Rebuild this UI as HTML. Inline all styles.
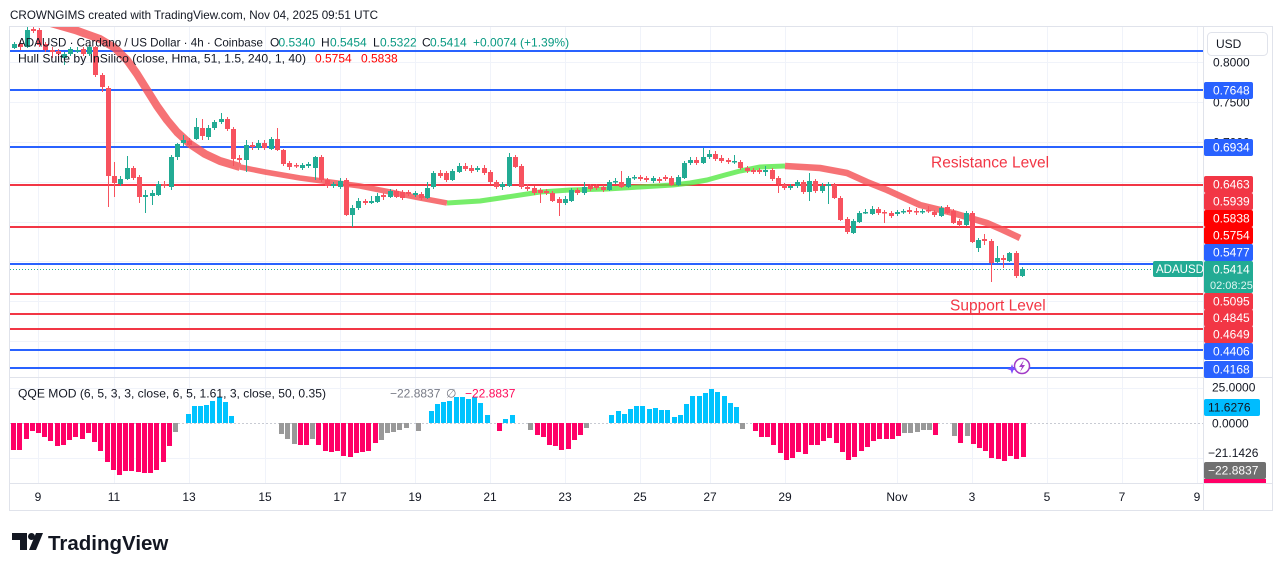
<!DOCTYPE html>
<html><head><meta charset="utf-8">
<style>
html,body{margin:0;padding:0;background:#fff;overflow:hidden;}
svg{display:block;}
text{font-family:"Liberation Sans",Arial,sans-serif;}
</style></head>
<body>
<svg width="1281" height="571" viewBox="0 0 1281 571" xmlns="http://www.w3.org/2000/svg">
<defs>
<clipPath id="pp"><rect x="10" y="27" width="1193" height="350"/></clipPath>
<clipPath id="qp"><rect x="10" y="378" width="1193" height="105"/></clipPath>
</defs>
<rect width="1281" height="571" fill="#fff"/>
<text x="10" y="19" font-size="12" fill="#131722" textLength="368" lengthAdjust="spacingAndGlyphs">CROWNGIMS created with TradingView.com, Nov 04, 2025 09:51 UTC</text>

<!-- grid -->
<g stroke="#f0f3fa" stroke-width="1">
<path d="M38.5,27V483M114.5,27V483M189.5,27V483M265.5,27V483M340.5,27V483M415.5,27V483M490.5,27V483M565.5,27V483M640.5,27V483M710.5,27V483M785.5,27V483M897.5,27V483M972.5,27V483M1047.5,27V483M1122.5,27V483M1197.5,27V483"/>
<path d="M10,62.5H1203M10,102.5H1203M10,142.5H1203M10,182.5H1203M10,222.5H1203M10,261.5H1203M10,301.5H1203M10,341.5H1203M10,388.5H1203M10,458.5H1203"/>
</g>

<!-- frame -->
<g stroke="#e0e3eb" stroke-width="1" fill="none">
<rect x="9.5" y="26.5" width="1263" height="484"/>
<path d="M1203.5,27V511M10,377.5H1272M10,483.5H1272"/>
</g>

<!-- level lines -->
<g stroke-width="2" clip-path="url(#pp)">
<path d="M10,51H1203M10,90H1203M10,147H1203M10,264H1203M10,350H1203M10,368H1203" stroke="#2962ff"/>
<path d="M10,185H1203M10,227H1203M10,294H1203M10,314H1203M10,329H1203" stroke="#f23645"/>
</g>
<path d="M10,269.5H1153" stroke="#22ab94" stroke-width="1" stroke-dasharray="1,2"/>

<!-- hull band -->
<g clip-path="url(#pp)" fill="none" stroke-linejoin="round">
<path d="M40,20 L75,30 L100,39 L115,48 L127,60 L137,74 L147,90 L157,106 L167,120 L177,132 L190,144 L205,154 L220,161 L240,167" stroke="#f44f52" stroke-opacity="0.8" stroke-width="8"/>
<path d="M240,167 L265,172 L300,178 L330,182 L360,186 L390,192 L420,198 L447,203" stroke="#f44f52" stroke-opacity="0.8" stroke-width="5.5"/>
<path d="M447,203 L480,201 L507,197 L540,192 L570,190 L607,189 L640,187 L673,185 L690,183 L707,180 L725,175 L740,171 L760,167 L785,166" stroke="#55e845" stroke-opacity="0.8" stroke-width="5"/>
<path d="M785,166 L820,168 L847,173 L867,182 L887,190 L920,205 L953,213 L987,223 L1003,230 L1020,238" stroke="#f44f52" stroke-opacity="0.8" stroke-width="6.5"/>
</g>

<!-- candles -->
<g clip-path="url(#pp)">
<path stroke="#22ab94" stroke-width="1" fill="none" d="M14.5 42V49M27.5 27V48M64.5 52V65M70.5 47V56M77.5 47V53M89.5 45V56M120.5 176V186M127.5 156V180M145.5 190V213M152.5 190V205M158.5 181V196M171.5 155V190M177.5 143V160M183.5 135V146M196.5 118V140M208.5 125V140M214.5 120V130M221.5 113V124M246.5 140V172M258.5 140V150M271.5 137V150M302.5 163V170M308.5 162V168M315.5 156V180M333.5 182V188M340.5 178V189M352.5 205V227M358.5 198V210M371.5 196V204M377.5 193V203M390.5 189V198M415.5 191V197M427.5 182V199M433.5 171V189M452.5 169V181M459.5 163V173M477.5 166V172M502.5 182V190M509.5 153V187M565.5 196V205M571.5 188V202M584.5 182V195M609.5 180V191M615.5 178V184M628.5 176V188M634.5 175V180M653.5 176V183M678.5 175V186M684.5 161V179M690.5 157V165M703.5 148V164M709.5 150V159M734.5 155V164M765.5 166V176M790.5 184V190M797.5 180V188M809.5 173V201M822.5 183V193M828.5 182V204M853.5 219V234M859.5 211V223M865.5 209V214M872.5 206V215M897.5 210V216M903.5 209V214M922.5 209V214M941.5 206V217M966.5 211V226M978.5 238V252M997.5 246V263M1009.5 252V262M1022.5 267V277"/>
<path fill="#22ab94" d="M12 44h5v4h-5zM25 30h5v17h-5zM62 54h5v4h-5zM68 49h5v5h-5zM75 50h5v1.5h-5zM87 47h5v7h-5zM118 179h5v5h-5zM125 168h5v11h-5zM143 195h5v2h-5zM150 193h5v3h-5zM156 184h5v11h-5zM169 157h5v30h-5zM175 144h5v13h-5zM181 140h5v3h-5zM194 127h5v12h-5zM206 128h5v9h-5zM212 122h5v6h-5zM219 119h5v3h-5zM244 145h5v15h-5zM256 143h5v5h-5zM269 139h5v10h-5zM300 165h5v3h-5zM306 164h5v2h-5zM313 157h5v11h-5zM331 184h5v2h-5zM338 181h5v6h-5zM350 208h5v7h-5zM356 201h5v7h-5zM369 201h5v2h-5zM375 196h5v6h-5zM388 191h5v6h-5zM413 193h5v2h-5zM425 188h5v10h-5zM431 173h5v14h-5zM450 171h5v9h-5zM457 166h5v6h-5zM475 168h5v2h-5zM500 184h5v3h-5zM507 157h5v29h-5zM563 199h5v4h-5zM569 190h5v11h-5zM582 187h5v6h-5zM607 182h5v8h-5zM613 181h5v1.5h-5zM626 178h5v9h-5zM632 177h5v1.5h-5zM651 178h5v3h-5zM676 177h5v8h-5zM682 163h5v15h-5zM688 160h5v3h-5zM701 157h5v6h-5zM707 154h5v3h-5zM732 161h5v1.5h-5zM763 170h5v2h-5zM788 186h5v2h-5zM795 182h5v4h-5zM807 181h5v11h-5zM820 186h5v5h-5zM826 184h5v2h-5zM851 221h5v12h-5zM857 213h5v9h-5zM863 212h5v1.5h-5zM870 209h5v5h-5zM895 212h5v2h-5zM901 211h5v1.5h-5zM920 211h5v1.5h-5zM939 208h5v8h-5zM964 213h5v12h-5zM976 240h5v8h-5zM995 258h5v4h-5zM1007 253h5v8h-5zM1020 269h5v7h-5z"/>
<path stroke="#f7525f" stroke-width="1" fill="none" d="M20.5 40V50M33.5 27V33M39.5 28V47M45.5 42V52M52.5 47V58M58.5 49V60M83.5 47V56M95.5 46V77M102.5 73V92M108.5 86V207M114.5 162V197M133.5 166V180M139.5 175V203M164.5 181V188M189.5 138V148M202.5 119V140M227.5 117V131M233.5 127V166M239.5 155V163M252.5 142V150M264.5 140V150M277.5 128V151M283.5 149V166M289.5 161V170M296.5 163V168M321.5 155V182M327.5 178V188M346.5 178V216M365.5 199V205M383.5 193V200M396.5 189V198M402.5 190V200M408.5 190V196M421.5 192V200M440.5 170V178M446.5 171V182M465.5 163V171M471.5 165V173M484.5 165V175M490.5 170V184M496.5 180V189M515.5 155V168M521.5 164V189M527.5 184V191M534.5 186V195M540.5 188V203M546.5 189V195M552.5 191V202M559.5 197V216M577.5 188V195M590.5 184V191M596.5 184V190M603.5 185V192M621.5 171V188M640.5 175V181M646.5 176V182M659.5 177V183M665.5 175V181M671.5 176V186M696.5 157V165M715.5 151V161M721.5 155V163M728.5 158V164M740.5 160V170M747.5 166V173M753.5 168V174M759.5 168V174M772.5 168V181M778.5 176V193M784.5 183V190M803.5 180V194M815.5 179V193M834.5 183V199M840.5 196V221M847.5 217V234M878.5 207V215M884.5 210V223M891.5 211V218M909.5 207V214M916.5 208V215M928.5 206V213M934.5 210V217M947.5 205V214M953.5 209V224M959.5 219V227M972.5 211V243M984.5 234V245M991.5 239V282M1003.5 255V268M1016.5 251V278"/>
<path fill="#f7525f" d="M18 44h5v3h-5zM31 29h5v2h-5zM37 30h5v15h-5zM43 44h5v6h-5zM50 50h5v2h-5zM56 51h5v3h-5zM81 49h5v5h-5zM93 47h5v28h-5zM100 75h5v12h-5zM106 88h5v88h-5zM112 176h5v7h-5zM131 168h5v10h-5zM137 177h5v20h-5zM162 184h5v2h-5zM187 141h5v4h-5zM200 128h5v8h-5zM225 119h5v10h-5zM231 129h5v30h-5zM237 158h5v2h-5zM250 145h5v2h-5zM262 143h5v5h-5zM275 139h5v11h-5zM281 150h5v14h-5zM287 163h5v4h-5zM294 165h5v1.5h-5zM319 157h5v23h-5zM325 180h5v6h-5zM344 180h5v35h-5zM363 201h5v2h-5zM381 195h5v2h-5zM394 191h5v6h-5zM400 192h5v6h-5zM406 192h5v2h-5zM419 194h5v4h-5zM438 173h5v3h-5zM444 173h5v7h-5zM463 166h5v3h-5zM469 168h5v3h-5zM482 168h5v5h-5zM488 172h5v10h-5zM494 182h5v5h-5zM513 157h5v10h-5zM519 166h5v21h-5zM525 187h5v2h-5zM532 188h5v5h-5zM538 190h5v3h-5zM544 191h5v2h-5zM550 193h5v8h-5zM557 199h5v4h-5zM575 190h5v3h-5zM588 186h5v3h-5zM594 186h5v2h-5zM601 187h5v3h-5zM619 182h5v5h-5zM638 177h5v2h-5zM644 178h5v2h-5zM657 179h5v2h-5zM663 177h5v2h-5zM669 178h5v7h-5zM694 160h5v3h-5zM713 154h5v5h-5zM719 158h5v3h-5zM726 160h5v2h-5zM738 162h5v6h-5zM745 168h5v3h-5zM751 170h5v2h-5zM757 170h5v2h-5zM770 170h5v9h-5zM776 178h5v6h-5zM782 185h5v3h-5zM801 182h5v10h-5zM813 181h5v10h-5zM832 185h5v13h-5zM838 198h5v22h-5zM845 219h5v13h-5zM876 209h5v4h-5zM882 212h5v1.5h-5zM889 213h5v3h-5zM907 210h5v2h-5zM914 211h5v1.5h-5zM926 210h5v1.5h-5zM932 212h5v3h-5zM945 207h5v6h-5zM951 211h5v12h-5zM957 221h5v4h-5zM970 213h5v29h-5zM982 239h5v2h-5zM989 241h5v22h-5zM1001 258h5v2h-5zM1014 253h5v23h-5z"/>
</g>

<!-- QQE -->
<path d="M10,423.5H1203" stroke="#c8cbd3" stroke-width="1" stroke-dasharray="2,2"/>
<g clip-path="url(#qp)">
<path fill="#ff0066" d="M11 423h5v27h-5zM17 423h5v27h-5zM24 423h5v16h-5zM30 423h5v8h-5zM36 423h5v10h-5zM42 423h5v14h-5zM48 423h5v18h-5zM55 423h5v23h-5zM61 423h5v22h-5zM67 423h5v17h-5zM73 423h5v14h-5zM80 423h5v16h-5zM86 423h5v10h-5zM92 423h5v19h-5zM98 423h5v28h-5zM105 423h5v39h-5zM111 423h5v47h-5zM117 423h5v52h-5zM123 423h5v48h-5zM129 423h5v48h-5zM136 423h5v49h-5zM142 423h5v50h-5zM148 423h5v50h-5zM154 423h5v47h-5zM161 423h5v39h-5zM167 423h5v23h-5zM298 423h5v22h-5zM304 423h5v22h-5zM316 423h5v22h-5zM323 423h5v28h-5zM329 423h5v29h-5zM335 423h5v28h-5zM341 423h5v33h-5zM348 423h5v34h-5zM354 423h5v30h-5zM360 423h5v29h-5zM366 423h5v28h-5zM373 423h5v20h-5zM497 423h5v8h-5zM535 423h5v12h-5zM541 423h5v14h-5zM547 423h5v22h-5zM553 423h5v23h-5zM559 423h5v27h-5zM566 423h5v26h-5zM572 423h5v17h-5zM578 423h5v12h-5zM753 423h5v8h-5zM759 423h5v14h-5zM765 423h5v14h-5zM771 423h5v22h-5zM778 423h5v30h-5zM784 423h5v37h-5zM790 423h5v35h-5zM796 423h5v29h-5zM803 423h5v31h-5zM809 423h5v22h-5zM815 423h5v22h-5zM821 423h5v18h-5zM827 423h5v15h-5zM834 423h5v20h-5zM840 423h5v29h-5zM846 423h5v37h-5zM852 423h5v34h-5zM859 423h5v28h-5zM865 423h5v24h-5zM871 423h5v18h-5zM877 423h5v16h-5zM884 423h5v16h-5zM890 423h5v16h-5zM896 423h5v13h-5zM933 423h5v12h-5zM958 423h5v20h-5zM971 423h5v21h-5zM977 423h5v25h-5zM983 423h5v28h-5zM989 423h5v35h-5zM996 423h5v36h-5zM1002 423h5v38h-5zM1008 423h5v33h-5zM1014 423h5v36h-5zM1021 423h5v34h-5z"/>
<path fill="#999999" d="M173 423h5v9h-5zM279 423h5v11h-5zM285 423h5v16h-5zM292 423h5v21h-5zM310 423h5v16h-5zM379 423h5v17h-5zM385 423h5v10h-5zM391 423h5v9h-5zM397 423h5v7h-5zM404 423h5v5h-5zM416 423h5v8h-5zM528 423h5v7h-5zM584 423h5v5h-5zM740 423h5v6h-5zM902 423h5v10h-5zM908 423h5v10h-5zM915 423h5v9h-5zM921 423h5v7h-5zM927 423h5v7h-5zM952 423h5v13h-5zM965 423h5v13h-5z"/>
<path fill="#00c3ff" d="M186 423h5v-9h-5zM192 423h5v-17h-5zM198 423h5v-17h-5zM204 423h5v-18h-5zM210 423h5v-22h-5zM217 423h5v-26h-5zM223 423h5v-21h-5zM229 423h5v-7h-5zM429 423h5v-12h-5zM435 423h5v-19h-5zM441 423h5v-21h-5zM447 423h5v-22h-5zM454 423h5v-26h-5zM460 423h5v-26h-5zM466 423h5v-24h-5zM472 423h5v-26h-5zM478 423h5v-20h-5zM485 423h5v-8h-5zM503 423h5v-4h-5zM510 423h5v-8h-5zM609 423h5v-8h-5zM616 423h5v-12h-5zM622 423h5v-9h-5zM628 423h5v-14h-5zM634 423h5v-17h-5zM640 423h5v-17h-5zM647 423h5v-14h-5zM653 423h5v-15h-5zM659 423h5v-13h-5zM665 423h5v-13h-5zM672 423h5v-6h-5zM678 423h5v-8h-5zM684 423h5v-19h-5zM690 423h5v-27h-5zM697 423h5v-27h-5zM703 423h5v-30h-5zM709 423h5v-34h-5zM715 423h5v-31h-5zM722 423h5v-27h-5zM728 423h5v-20h-5zM734 423h5v-16h-5z"/>
</g>

<!-- legends -->
<text x="18" y="46.5" font-size="12" fill="#131722" textLength="245" lengthAdjust="spacingAndGlyphs">ADAUSD · Cardano / US Dollar · 4h · Coinbase</text>
<text y="46.5" font-size="12"><tspan x="270" fill="#131722">O</tspan><tspan x="278.5" fill="#089981">0.5340</tspan><tspan x="321" fill="#131722">H</tspan><tspan x="330" fill="#089981">0.5454</tspan><tspan x="373" fill="#131722">L</tspan><tspan x="380" fill="#089981">0.5322</tspan><tspan x="422" fill="#131722">C</tspan><tspan x="430" fill="#089981">0.5414</tspan><tspan x="473" fill="#089981">+0.0074 (+1.39%)</tspan></text>
<text x="18" y="62.5" font-size="12" fill="#131722" textLength="288" lengthAdjust="spacingAndGlyphs">Hull Suite by InSilico (close, Hma, 51, 1.5, 240, 1, 40)</text>
<text y="62.5" font-size="12" fill="#ff0000"><tspan x="315">0.5754</tspan><tspan x="361">0.5838</tspan></text>

<text x="18" y="397.5" font-size="12" fill="#131722" textLength="308" lengthAdjust="spacingAndGlyphs">QQE MOD (6, 5, 3, 3, close, 6, 5, 1.61, 3, close, 50, 0.35)</text>
<text x="390" y="397.5" font-size="12" fill="#787b86">−22.8837</text>
<text x="446" y="397.5" font-size="12" fill="#787b86">∅</text>
<text x="465" y="397.5" font-size="12" fill="#ff0a5a">−22.8837</text>

<text x="931" y="167.5" font-size="15.5" fill="#f23645">Resistance Level</text>
<text x="950" y="310.5" font-size="15.5" fill="#f23645">Support Level</text>

<!-- lightning icon -->
<g>
<circle cx="1022" cy="366" r="7.5" fill="#fff" stroke="#a23cc7" stroke-width="1.5"/>
<path d="M1024,360 L1019,367 L1022,367 L1020,372 L1025,365 L1022,365 Z" fill="#a23cc7"/>
<path d="M1012,364 L1013.3,367.7 L1017,369 L1013.3,370.3 L1012,374 L1010.7,370.3 L1007,369 L1010.7,367.7 Z" fill="#7c4dff"/>
</g>

<!-- right axis -->
<g font-size="12" fill="#131722">
<text x="1213" y="66.5">0.8000</text>
<text x="1213" y="106.5">0.7500</text>
<text x="1213" y="146.5">0.7000</text>
</g>
<rect x="1207.5" y="32.5" width="60" height="23" rx="4" fill="#fff" stroke="#e0e3eb"/>
<text x="1216" y="48" font-size="12" fill="#131722">USD</text>

<g font-size="12" fill="#fff">
<rect x="1204" y="82" width="49" height="17" rx="2" fill="#2962ff"/><text x="1213" y="94.5">0.7648</text>
<rect x="1204" y="139" width="49" height="17" rx="2" fill="#2962ff"/><text x="1213" y="151.5">0.6934</text>
<rect x="1204" y="176" width="49" height="17" rx="2" fill="#f23645"/><text x="1213" y="188.5">0.6463</text>
<rect x="1204" y="193" width="49" height="17" rx="2" fill="#f23645"/><text x="1213" y="205.5">0.5939</text>
<rect x="1204" y="210" width="49" height="17" rx="2" fill="#ff0000"/><text x="1213" y="222.5">0.5838</text>
<rect x="1204" y="227" width="49" height="17" rx="2" fill="#ff0000"/><text x="1213" y="239.5">0.5754</text>
<rect x="1204" y="244" width="49" height="17" rx="2" fill="#2962ff"/><text x="1213" y="256.5">0.5477</text>
<rect x="1204" y="261" width="49" height="32" rx="2" fill="#22ab94"/><text x="1213" y="273.5">0.5414</text><text x="1210" y="289" font-size="11" fill="#dff5f1">02:08:25</text>
<rect x="1204" y="293" width="49" height="17" rx="2" fill="#f23645"/><text x="1213" y="305.5">0.5095</text>
<rect x="1204" y="309.5" width="49" height="17" rx="2" fill="#f23645"/><text x="1213" y="322">0.4845</text>
<rect x="1204" y="326" width="49" height="17" rx="2" fill="#f23645"/><text x="1213" y="338.5">0.4649</text>
<rect x="1204" y="343" width="49" height="17" rx="2" fill="#2962ff"/><text x="1213" y="355.5">0.4406</text>
<rect x="1204" y="361" width="49" height="17" rx="2" fill="#2962ff"/><text x="1213" y="373.5">0.4168</text>
<rect x="1153" y="261" width="50" height="16" rx="2" fill="#22ab94"/><text x="1156" y="273" font-size="11.5">ADAUSD</text>
</g>

<!-- QQE axis -->
<g font-size="12">
<text x="1212" y="391.5" fill="#131722">25.0000</text>
<rect x="1204" y="399" width="56" height="17" rx="2" fill="#00bcff"/><text x="1208" y="411.5" fill="#131722">11.6276</text>
<text x="1212" y="427.5" fill="#131722">0.0000</text>
<text x="1208" y="457" fill="#131722">−21.1426</text>
<rect x="1204" y="462" width="62" height="17" rx="2" fill="#707070"/><text x="1208" y="474.5" fill="#fff">−22.8837</text>
<rect x="1204" y="479" width="62" height="4" fill="#ff0066"/>
</g>

<!-- time axis -->
<g font-size="12" fill="#131722" text-anchor="middle">
<text x="38" y="501">9</text><text x="114" y="501">11</text><text x="189" y="501">13</text><text x="265" y="501">15</text>
<text x="340" y="501">17</text><text x="415" y="501">19</text><text x="490" y="501">21</text><text x="565" y="501">23</text>
<text x="640" y="501">25</text><text x="710" y="501">27</text><text x="785" y="501">29</text><text x="897" y="501">Nov</text>
<text x="972" y="501">3</text><text x="1047" y="501">5</text><text x="1122" y="501">7</text><text x="1197" y="501">9</text>
</g>

<!-- logo -->
<g fill="#131722">
<path d="M12,533 H27 V550 H20 V540 H12 Z"/>
<circle cx="31.5" cy="536.5" r="3.5"/>
<path d="M36,533 H43 L36,550 H29 Z"/>
</g>
<text x="48" y="550" font-size="20.5" font-weight="bold" fill="#131722">TradingView</text>
</svg>
</body></html>
